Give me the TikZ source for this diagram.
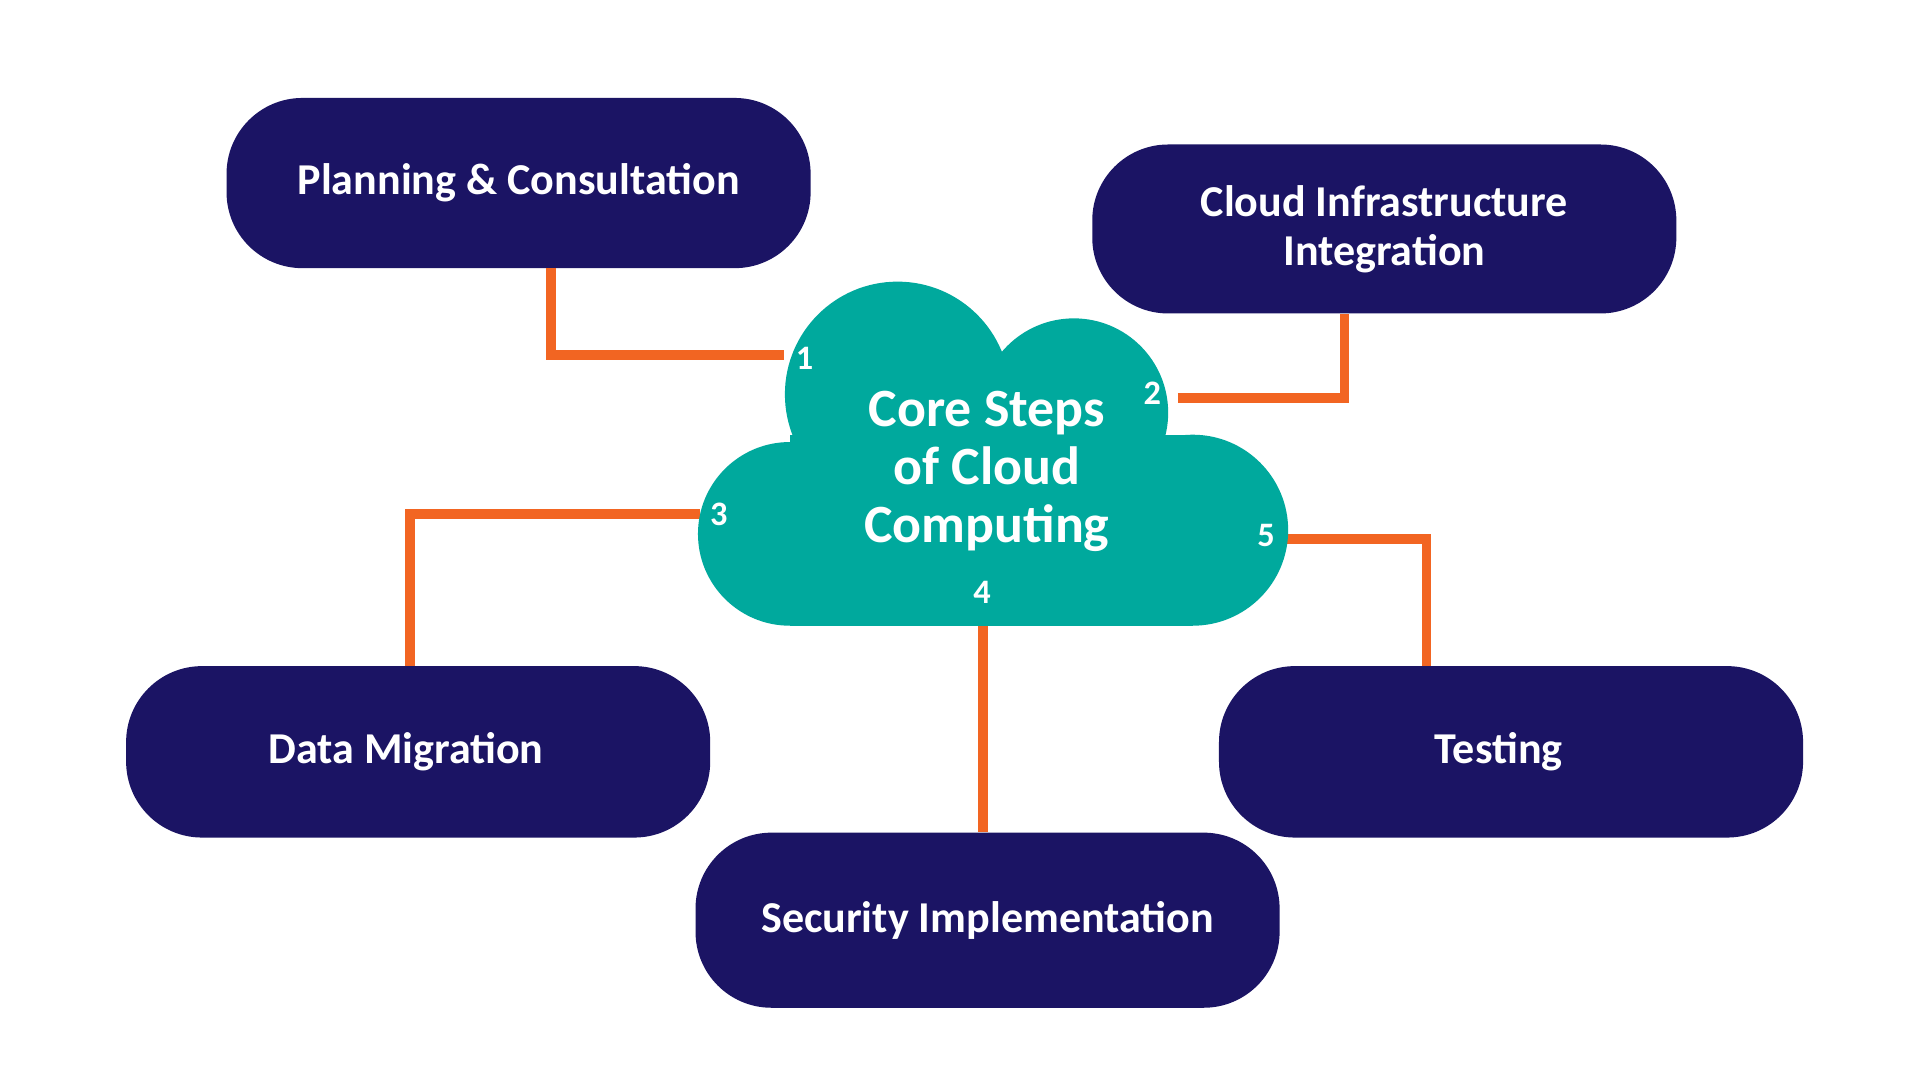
\documentclass[tikz,border=0pt]{standalone}
\usepackage{fontspec}
\setmainfont{Carlito}
\definecolor{navy}{HTML}{1B1464}
\definecolor{teal}{HTML}{00A99D}
\definecolor{orng}{HTML}{F26522}
\begin{document}
\begin{tikzpicture}[x=1pt,y=-1pt,
 box/.style={fill=navy,rounded corners=62pt,minimum width=477pt,text=white,font=\bfseries\fontsize{36}{40}\selectfont,align=center,inner sep=0pt},
 link/.style={draw=orng,line width=8pt},
 num/.style={text=white,font=\bfseries\fontsize{28}{30}\selectfont}]
\useasboundingbox (0,0) rectangle (1568,882);
\fill[white] (0,0) rectangle (1568,882);
\node[box,minimum height=139pt] (plan) at (423.5,149.5) {Planning \& Consultation};
\node[box,minimum height=138pt] (infra) at (1130.5,187) {Cloud Infrastructure\\Integration};
\node[box,minimum height=140pt] (data) at (341.5,614) {\hspace*{-20pt}Data Migration};
\node[box,minimum height=140pt] (test) at (1234,614) {\hspace*{-20pt}Testing};
\node[box,minimum height=143pt] (sec) at (806.5,751.5) {Security Implementation};
\coordinate (c1) at (640,290);
\coordinate (c2) at (962,325);
\coordinate (c3) at (572,420);
\coordinate (c4) at (803,508);
\coordinate (c5) at (1048,440);
\draw[link] (plan.south -| 450,0) |- (c1);
\draw[link] (c2) -| (infra.south -| 1098,0);
\draw[link] (c3) -| (data.north -| 335,0);
\draw[link] (c4) -- (sec.north -| c4);
\draw[link] (c5) -| (test.north -| 1165,0);
\begin{scope}
\fill[teal] (733,322) circle (92);
\fill[teal] (877,337) circle (77);
\fill[teal] (645,436) circle (75);
\fill[teal] (974,433) circle (78);
\fill[teal] (645,355) rectangle (974,511);
\fill[teal] (700,300) rectangle (900,420);
\end{scope}
\node[text=white,font=\bfseries\fontsize{44}{47}\selectfont,align=center] (core) at (806,385) {Core Steps\\of Cloud\\Computing};
\node[num] (n1) at (657,293) {1};
\node[num] (n2) at (941,321) {2};
\node[num] (n3) at (587,420) {3};
\node[num] (n4) at (802,484) {4};
\node[num] (n5) at (1034,437) {5};
\end{tikzpicture}
\end{document}
